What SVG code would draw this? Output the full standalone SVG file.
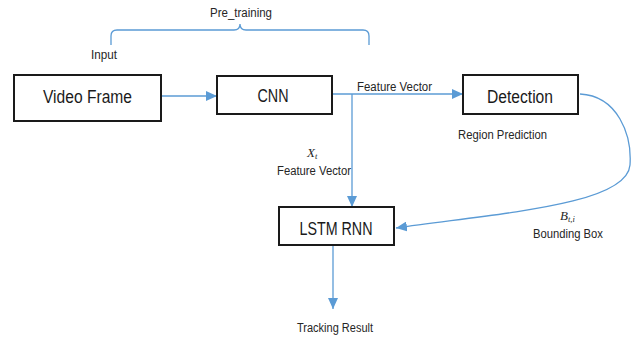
<svg xmlns="http://www.w3.org/2000/svg" width="633" height="338" viewBox="0 0 633 338">
<style>
.box{fill:#fff;stroke:#1a1a1a;stroke-width:2}
.lbl{font-family:"Liberation Sans",Arial,sans-serif;font-size:17.5px;fill:#1a1a1a;text-anchor:middle}
.sm{font-family:"Liberation Sans",Arial,sans-serif;font-size:12px;fill:#262626;text-anchor:middle}
.math{font-family:"Liberation Serif","Times New Roman",serif;font-style:italic;fill:#262626}
.con{fill:none;stroke:#5b9bd5;stroke-width:1.3}
</style>
<defs>
<marker id="arr" markerUnits="userSpaceOnUse" markerWidth="12" markerHeight="10" refX="11" refY="5" orient="auto">
<path d="M0,0 L11,5 L0,10 Z" fill="#5b9bd5"/>
</marker>
</defs>
<rect width="633" height="338" fill="#fff"/>
<g id="bracket">
<path class="con" d="M111,45 L111,36 Q111,30 117,30 L234,30 Q240,30 240,24 Q240,30 246,30 L363,30 Q369,30 369,36 L369,45"/>
<text class="sm" x="241" y="17" textLength="62" lengthAdjust="spacingAndGlyphs">Pre_training</text>
<text class="sm" x="104" y="59" textLength="26" lengthAdjust="spacingAndGlyphs">Input</text>
</g>
<g id="connectors">
<path class="con" d="M161,96 L217,96" marker-end="url(#arr)"/>
<path class="con" d="M332,94 L463,94" marker-end="url(#arr)"/>
<path class="con" d="M352,94 L352,207" marker-end="url(#arr)"/>
<path class="con" d="M580,94 C618,96 632,135 630,165 C627,205 500,213 396,228" marker-end="url(#arr)"/>
<path class="con" d="M333,245 L333,309" marker-end="url(#arr)"/>
</g>
<g id="video-frame">
<rect class="box" x="14" y="75" width="147" height="46"/>
<text class="lbl" x="87.5" y="103" textLength="89" lengthAdjust="spacingAndGlyphs">Video Frame</text>
</g>
<g id="cnn">
<rect class="box" x="217" y="76" width="115" height="38"/>
<text class="lbl" x="273" y="102" textLength="31" lengthAdjust="spacingAndGlyphs">CNN</text>
</g>
<g id="detection">
<rect class="box" x="463" y="75" width="115" height="39"/>
<text class="lbl" x="520" y="103" textLength="66" lengthAdjust="spacingAndGlyphs">Detection</text>
</g>
<g id="lstm-rnn">
<rect class="box" x="279" y="207" width="115" height="38"/>
<text class="lbl" x="336" y="235" textLength="73" lengthAdjust="spacingAndGlyphs">LSTM RNN</text>
</g>
<g id="labels">
<text class="sm" x="394.5" y="91" textLength="75" lengthAdjust="spacingAndGlyphs">Feature Vector</text>
<text class="sm" x="502.5" y="139" textLength="89" lengthAdjust="spacingAndGlyphs">Region Prediction</text>
<text class="math" x="307" y="157" font-size="13">X<tspan font-size="8.5" dy="2">t</tspan></text>
<text class="sm" x="314" y="175" textLength="74" lengthAdjust="spacingAndGlyphs">Feature Vector</text>
<text class="math" x="560" y="220" font-size="13">B<tspan font-size="8.5" dy="2">t,i</tspan></text>
<text class="sm" x="568" y="238" textLength="70" lengthAdjust="spacingAndGlyphs">Bounding  Box</text>
<text class="sm" x="335" y="332" textLength="76" lengthAdjust="spacingAndGlyphs">Tracking Result</text>
</g>
</svg>
